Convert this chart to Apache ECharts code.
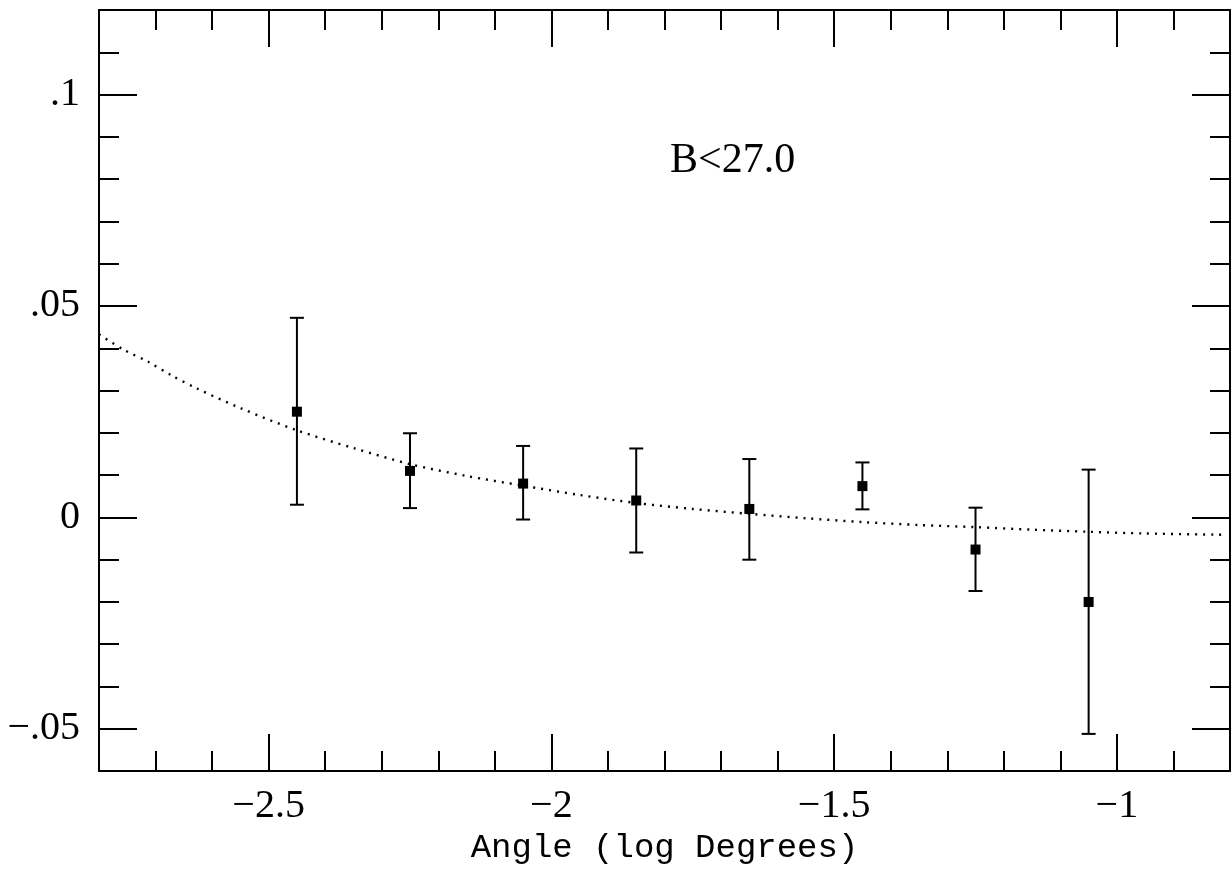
<!DOCTYPE html>
<html>
<head>
<meta charset="utf-8">
<script src="https://cdn.jsdelivr.net/npm/echarts@6/dist/echarts.min.js"></script>
<style>
  html, body { margin: 0; padding: 0; background: #fff; }
  #chart { width: 1232px; height: 870px; }
</style>
</head>
<body>
<div id="chart"></div>
<script>
// ---- data ----
const pointX    = [-2.45, -2.25, -2.05, -1.85, -1.65, -1.45, -1.25, -1.05];
const pointY    = [0.0250, 0.0110, 0.0080, 0.0040, 0.0020, 0.0074, -0.0076, -0.0200];
const errHigh   = [0.0472, 0.0199, 0.0169, 0.0163, 0.0138, 0.0130, 0.0023, 0.0113];
const errLow    = [0.0030, 0.0022, -0.0005, -0.0083, -0.0100, 0.0019, -0.0174, -0.0512];

const curveX = [-2.80, -2.757, -2.713, -2.672, -2.627, -2.549, -2.45, -2.35, -2.25, -2.15, -2.05, -1.95, -1.85, -1.75, -1.65, -1.55, -1.45, -1.35, -1.25, -1.15, -1.05, -0.95, -0.81];
const curveY = [0.0433, 0.0397, 0.0368, 0.0336, 0.0305, 0.0258, 0.0206, 0.0164, 0.0126, 0.0098, 0.0075, 0.0053, 0.0034, 0.0020, 0.00085, -0.0002, -0.0011, -0.0018, -0.0023, -0.0029, -0.0034, -0.0038, -0.0041];

const xMajorTicks = [-2.5, -2, -1.5, -1];
const yMajorTicks = [-0.05, 0, 0.05, 0.1];
const xTickLabels = {'-2.5': '\u22122.5', '-2': '\u22122', '-1.5': '\u22121.5', '-1': '\u22121'};
const yTickLabels = {'-0.05': '\u2212.05', '0': '0', '0.05': '.05', '0.1': '.1'};
const panelLabel = 'B<27.0';
const xTitle = 'Angle (log Degrees)';

// ---- chart ----
const chart = echarts.init(document.getElementById('chart'), null, {renderer: 'canvas'});
const LINE = {show: true, onZero: false, lineStyle: {color: '#000', width: 2}};
const NOLINE = {show: false, onZero: false};
const tickFont = {fontFamily: 'Liberation Serif', fontSize: 40, color: '#000'};

function xAxisDef(pos, major, withLabels) {
  const a = {
    type: 'value', position: pos, min: -2.8, max: -0.8,
    axisLine: major ? LINE : NOLINE,
    splitLine: {show: false},
    axisTick: {show: true, inside: true, length: major ? 37 : 20, lineStyle: {color: '#000', width: 2}},
    axisLabel: {show: false}
  };
  if (major) {
    a.axisTick.customValues = xMajorTicks;
    if (withLabels) {
      a.axisLabel = Object.assign({show: true, margin: 15, customValues: xMajorTicks,
        formatter: v => xTickLabels[String(Math.round(v * 10) / 10)] || ''}, tickFont);
      a.name = xTitle;
      a.nameLocation = 'middle';
      a.nameGap = 58;
      a.nameTextStyle = {fontFamily: 'Liberation Mono', fontSize: 34, color: '#000'};
    }
  } else {
    a.interval = 0.1;
  }
  return a;
}
function yAxisDef(pos, major, withLabels) {
  const a = {
    type: 'value', position: pos, min: -0.06, max: 0.12,
    axisLine: major ? LINE : NOLINE,
    splitLine: {show: false},
    axisTick: {show: true, inside: true, length: major ? 38 : 20, lineStyle: {color: '#000', width: 2}},
    axisLabel: {show: false}
  };
  if (major) {
    a.axisTick.customValues = yMajorTicks;
    if (withLabels) {
      a.axisLabel = Object.assign({show: true, margin: 19, customValues: yMajorTicks,
        formatter: v => yTickLabels[String(Math.round(v * 100) / 100)] || ''}, tickFont);
    }
  } else {
    a.interval = 0.01;
  }
  return a;
}

const errData = pointX.map((x, i) => [x, errLow[i], errHigh[i]]);

const option = {
  backgroundColor: '#fff',
  animation: false,
  grid: {left: 99, right: 2, top: 10, bottom: 96, containLabel: false},
  xAxis: [
    xAxisDef('bottom', true, true),
    xAxisDef('top', true, false),
    xAxisDef('bottom', false, false),
    xAxisDef('top', false, false)
  ],
  yAxis: [
    yAxisDef('left', true, true),
    yAxisDef('right', true, false),
    yAxisDef('left', false, false),
    yAxisDef('right', false, false)
  ],
  graphic: [{
    type: 'text', left: 670, top: 140,
    style: {text: panelLabel, fontFamily: 'Liberation Serif', fontSize: 42, fill: '#000'}
  }],
  series: [
    {
      type: 'line', xAxisIndex: 0, yAxisIndex: 0,
      data: curveX.map((x, i) => [x, curveY[i]]),
      smooth: 0.3, showSymbol: false, symbol: 'none',
      lineStyle: {color: '#000', width: 2.4, type: [2, 6]},
      z: 2
    },
    {
      type: 'custom', xAxisIndex: 0, yAxisIndex: 0,
      data: errData,
      renderItem: function (params, api) {
        const x = api.value(0);
        const lo = api.coord([x, api.value(1)]);
        const hi = api.coord([x, api.value(2)]);
        const hw = 7;
        const st = {stroke: '#000', lineWidth: 2};
        return {
          type: 'group',
          children: [
            {type: 'line', shape: {x1: lo[0], y1: lo[1], x2: hi[0], y2: hi[1]}, style: st},
            {type: 'line', shape: {x1: lo[0] - hw, y1: lo[1], x2: lo[0] + hw, y2: lo[1]}, style: st},
            {type: 'line', shape: {x1: hi[0] - hw, y1: hi[1], x2: hi[0] + hw, y2: hi[1]}, style: st}
          ]
        };
      },
      z: 3
    },
    {
      type: 'scatter', xAxisIndex: 0, yAxisIndex: 0,
      data: pointX.map((x, i) => [x, pointY[i]]),
      symbol: 'rect', symbolSize: 10,
      itemStyle: {color: '#000', opacity: 1},
      z: 4
    }
  ]
};
chart.setOption(option);
</script>
</body>
</html>
